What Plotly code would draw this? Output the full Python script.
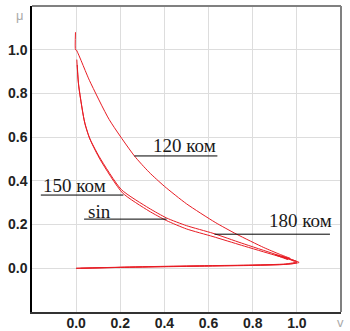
import plotly.graph_objects as go

# Curve "120 ком" (upper branch), then return along the bottom
v_120 = [-0.003, -0.003, 0.0, 0.06, 0.15, 0.264, 0.33, 0.40, 0.50, 0.63, 0.727, 0.85, 0.92, 0.97, 0.90, 0.96, 0.93, 1.0, 0.95, 0.80, 0.60, 0.40, 0.20, 0.0]
mu_120 = [1.08, 1.0, 1.0, 0.86, 0.68, 0.514, 0.44, 0.375, 0.295, 0.21, 0.156, 0.095, 0.065, 0.045, 0.062, 0.04, 0.055, 0.025, 0.018, 0.014, 0.011, 0.008, 0.004, 0.0]

# Curve "150 ком"
v_150 = [0.003, 0.01, 0.036, 0.059, 0.105, 0.205, 0.33, 0.41, 0.50, 0.62, 0.75, 0.90, 1.0, 0.95, 0.80, 0.60, 0.40, 0.20, 0.0]
mu_150 = [0.955, 0.85, 0.68, 0.60, 0.51, 0.36, 0.275, 0.23, 0.195, 0.16, 0.115, 0.065, 0.03, 0.02, 0.015, 0.012, 0.009, 0.005, 0.0]

# Curve "sin"
v_sin = [0.005, 0.012, 0.04, 0.065, 0.11, 0.21, 0.33, 0.41, 0.50, 0.62, 0.75, 0.90, 1.01, 0.95, 0.80, 0.60, 0.40, 0.20, 0.02]
mu_sin = [0.93, 0.83, 0.66, 0.585, 0.495, 0.345, 0.262, 0.218, 0.18, 0.145, 0.105, 0.06, 0.027, 0.018, 0.013, 0.01, 0.007, 0.004, 0.0]

x_ticks = [0.0, 0.2, 0.4, 0.6, 0.8, 1.0]
y_ticks = [0.0, 0.2, 0.4, 0.6, 0.8, 1.0]

labels = ["120 ком", "150 ком", "sin", "180 ком"]
label_pos = [(0.49, 0.562), (-0.009, 0.378), (0.105, 0.258), (1.016, 0.218)]
underline = [(0.264, 0.64, 0.514), (-0.16, 0.214, 0.335), (0.036, 0.41, 0.225), (0.627, 1.15, 0.156)]

red = "rgb(232,28,36)"
fig = go.Figure()
for vx, my in [(v_120, mu_120), (v_150, mu_150), (v_sin, mu_sin)]:
    fig.add_trace(go.Scatter(x=vx, y=my, mode="lines",
                             line=dict(color=red, width=1, shape="spline", smoothing=0.6),
                             hoverinfo="skip", showlegend=False))

shapes = []
for (x0, x1, y) in underline:
    shapes.append(dict(type="line", xref="x", yref="y", x0=x0, x1=x1, y0=y, y1=y,
                       line=dict(color="black", width=1)))
# top and right frame (gray)
shapes.append(dict(type="line", xref="paper", yref="paper", x0=0, x1=1, y0=1, y1=1,
                   line=dict(color="#808080", width=2)))
shapes.append(dict(type="line", xref="paper", yref="paper", x0=1, x1=1, y0=0, y1=1,
                   line=dict(color="#808080", width=2)))

serif = "Liberation Serif, DejaVu Serif, serif"
annotations = []
for t, (x, y) in zip(labels, label_pos):
    annotations.append(dict(x=x, y=y, xref="x", yref="y", text=t, showarrow=False,
                            font=dict(family=serif, size=19, color="#1a1a1a")))
annotations.append(dict(x=-0.04, y=1.0, xref="paper", yref="paper", text="μ", showarrow=False,
                        xanchor="center", yanchor="top", font=dict(family="Liberation Sans", size=13, color="#aaaaaa")))
annotations.append(dict(x=0.997, y=-0.035, xref="paper", yref="paper", text="v", showarrow=False,
                        xanchor="center", yanchor="middle", font=dict(family="Liberation Sans", size=13, color="#aaaaaa")))

tickfont = dict(family="Liberation Sans", size=14, color="#222", weight="bold")
fig.update_layout(
    width=350, height=331,
    margin=dict(l=32, r=9, t=6, b=19),
    paper_bgcolor="white", plot_bgcolor="white",
    shapes=shapes, annotations=annotations,
    xaxis=dict(range=[-0.2, 1.2], tickvals=x_ticks, ticktext=[f"{t:.1f}" for t in x_ticks],
               showgrid=True, gridcolor="#dddddd", gridwidth=1, zeroline=False, automargin=False,
               showline=True, linecolor="#333333", linewidth=1.5, ticks="", ticklabelstandoff=-3,
               tickfont=tickfont),
    yaxis=dict(range=[-0.2, 1.2], tickvals=y_ticks, ticktext=[f"{t:.1f}" for t in y_ticks],
               showgrid=True, gridcolor="#dddddd", gridwidth=1, zeroline=False, automargin=False,
               showline=True, linecolor="black", linewidth=1.5, ticks="", ticklabelstandoff=0,
               tickfont=tickfont),
)
fig.write_html("out.html", config={"displayModeBar": False},
               post_script="document.body.style.margin='0';")
